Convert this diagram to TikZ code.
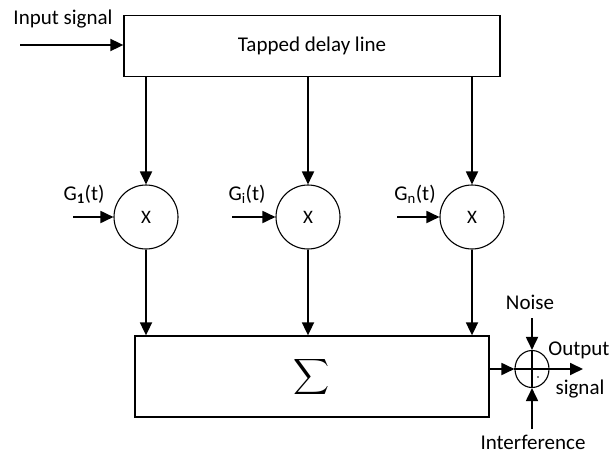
\documentclass[tikz,border=0pt]{standalone}
\usepackage{fontspec}
\setmainfont{Carlito}
\usepackage{graphicx}
\usetikzlibrary{arrows.meta,shapes.geometric}
\begin{document}
\begin{tikzpicture}[x=1pt,y=-1pt,
  box/.style={draw,line width=1.3pt,inner sep=0pt},
  mult/.style={draw,circle,line width=1.1pt,minimum size=64pt,inner sep=0pt,font=\fontsize{19}{19}\selectfont},
  arr/.style={line width=1.8pt,-{Triangle[length=13pt,width=12pt]}},
  lbl/.style={font=\fontsize{21}{21}\selectfont,inner sep=0pt}]
\useasboundingbox (0,0) rectangle (614,455);
% top box
\node[box,minimum width=376pt,minimum height=61pt,lbl] (tdl) at (312,46) {Tapped delay line};
\coordinate (in) at (20,45);
\draw[arr] (in) -- (tdl.west |- in);
\node[lbl] (inl) at (63,19) {Input signal};
% multipliers
\node[mult] (m1) at (146,217) {X};
\node[mult] (m2) at (308,217) {X};
\node[mult] (m3) at (472,217) {X};
\foreach \m in {m1,m2,m3}{\draw[arr] (tdl.south -| \m) -- (\m.north);}
\coordinate (g1) at (73,217);
\coordinate (g2) at (232,217);
\coordinate (g3) at (397,217);
\draw[arr] (g1) -- (m1.west);
\draw[arr] (g2) -- (m2.west);
\draw[arr] (g3) -- (m3.west);
\node[lbl] (g1l) at (84,194) {G$_{\mathbf 1}$(t)};
\node[lbl] (g2l) at (247,194) {G$_{\mathrm i}$(t)};
\node[lbl] (g3l) at (415,194) {G$_{\mathrm n}$(t)};
% sum box
\node[box,minimum width=354pt,minimum height=81pt] (sum) at (312,376.5) {\scalebox{2.5}{$\displaystyle\sum$}};
\draw[arr] (m1.south) -- (m1.south |- sum.north);
\draw[arr] (m2.south) -- (m2.south |- sum.north);
\draw[arr] (m3.south) -- (m3.south |- sum.north);
% output summer
\node[draw,ellipse,line width=1.1pt,minimum width=34pt,minimum height=37pt,inner sep=0pt] (oc) at (532,369) {};
\draw[line width=1.1pt] (oc.north) -- (oc.south) (oc.west) -- (oc.east);
\fill (538,377) circle (0.9pt);
\draw[arr] (sum.east |- oc.west) -- (oc.west);
\coordinate (out) at (583,369);
\draw[arr] (oc.east) -- (out);
\coordinate (nz) at (532,318);
\coordinate (itf) at (532,429);
\draw[arr] (nz) -- (oc.north);
\draw[arr] (itf) -- (oc.south);
\node[lbl] (nzl) at (530,302) {Noise};
\node[lbl] (outl) at (579,350) {Output};
\node[lbl] (sigl) at (580,389) {signal};
\node[lbl] (itfl) at (533,442) {Interference};
\end{tikzpicture}
\end{document}
